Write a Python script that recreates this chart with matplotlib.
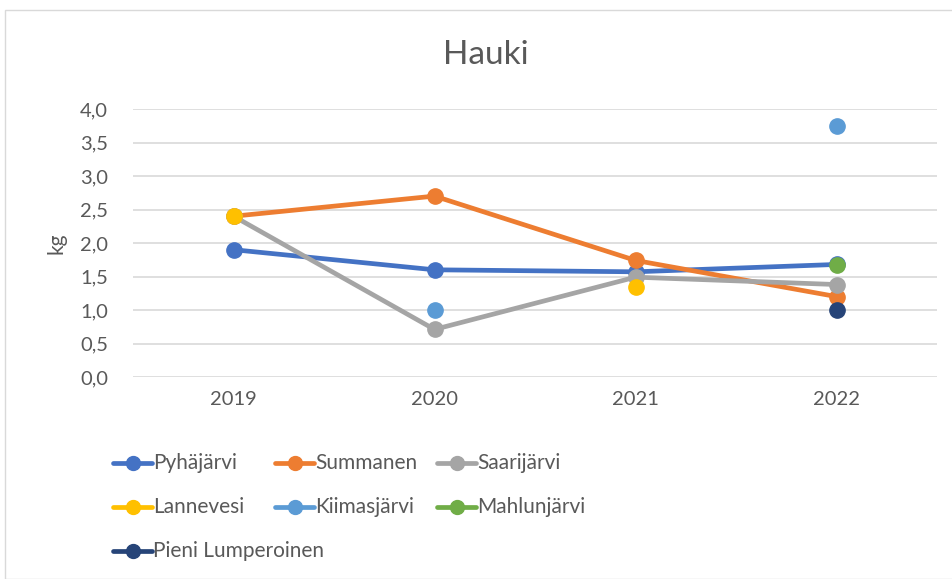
import matplotlib
matplotlib.use('Agg')
import matplotlib.pyplot as plt
import numpy as np
from matplotlib.lines import Line2D
from matplotlib.patches import Rectangle

plt.rcParams['font.family'] = ['Lato', 'DejaVu Sans']

years = ['2019', '2020', '2021', '2022']
names = ['Pyhäjärvi', 'Summanen', 'Saarijärvi', 'Lannevesi',
         'Kiimasjärvi', 'Mahlunjärvi', 'Pieni Lumperoinen']
pyhajarvi = [1.90, 1.60, 1.57, 1.68]
summanen = [2.40, 2.70, 1.74, 1.20]
saarijarvi = [2.40, 0.71, 1.49, 1.38]
lannevesi = [2.40, np.nan, 1.34, np.nan]
kiimasjarvi = [np.nan, 1.00, np.nan, 3.74]
mahlunjarvi = [np.nan, np.nan, np.nan, 1.67]
pieni_lumperoinen = [np.nan, np.nan, np.nan, 1.00]
series = [pyhajarvi, summanen, saarijarvi, lannevesi,
          kiimasjarvi, mahlunjarvi, pieni_lumperoinen]
colors = ['#4472C4', '#ED7D31', '#A5A5A5', '#FFC000',
          '#5B9BD5', '#70AD47', '#264478']

W, H = 952, 579
fig = plt.figure(figsize=(W / 100, H / 100), dpi=100)

# chart border
fig.patches.append(Rectangle((5 / W, 0), 1.0, 1 - 10 / H, transform=fig.transFigure,
                             fill=False, edgecolor='#D9D9D9', lw=1.0))

ax = fig.add_axes([133 / W, 1 - 377 / H, (937 - 133) / W, (377 - 109) / H])
x = np.arange(len(years))
for vals, c in zip(series, colors):
    ax.plot(x, vals, color=c, lw=3.4, marker='o', ms=11, solid_capstyle='round')

ax.set_xlim(-0.5, 3.5)
ax.set_ylim(0, 4.0)
ax.set_yticks(np.arange(0, 4.01, 0.5))
ax.set_yticklabels([f'{v:.1f}'.replace('.', ',') for v in np.arange(0, 4.01, 0.5)])
ax.set_xticks(x)
ax.set_xticklabels(years)
ax.tick_params(length=0, labelsize=14.5, colors='#595959', pad=10)
ax.tick_params(axis='y', pad=18)
ax.grid(axis='y', color='#D9D9D9', lw=1.2)
ax.set_axisbelow(True)
for s in ax.spines.values():
    s.set_visible(False)
ax.set_ylabel('kg', fontsize=15, color='#595959', labelpad=10)

fig.text(486 / W, 1 - 55 / H, 'Hauki', ha='center', va='center',
         fontsize=24, color='#595959')

# legend, Excel-style grid
col_x = [113, 275, 437]
row_y = [463, 507, 551]
for i, (name, c) in enumerate(zip(names, colors)):
    cx = col_x[i % 3]
    cy = row_y[i // 3]
    fig.add_artist(Line2D([cx / W, (cx + 39) / W], [1 - cy / H, 1 - cy / H],
                          transform=fig.transFigure, color=c, lw=3.4,
                          solid_capstyle='round'))
    fig.add_artist(Line2D([(cx + 19.5) / W], [1 - cy / H], transform=fig.transFigure,
                          color=c, marker='o', ms=10, lw=0))
    fig.text((cx + 40) / W, 1 - cy / H, name, ha='left', va='center',
             fontsize=15, color='#595959')

fig.savefig('out.png', dpi=100)
